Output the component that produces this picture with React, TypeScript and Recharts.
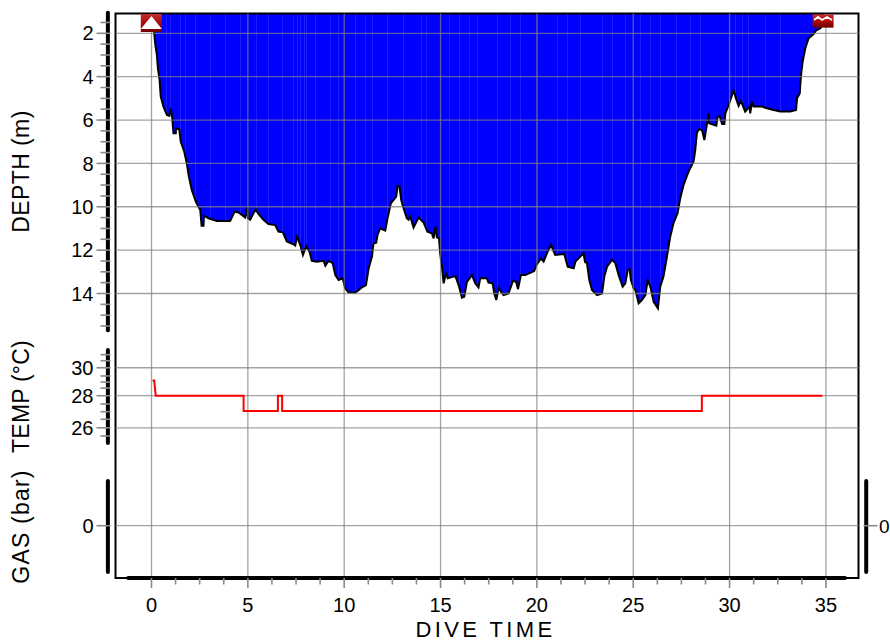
import React from "react";
import {
  ComposedChart,
  Area,
  Line,
  XAxis,
  YAxis,
  ReferenceLine,
  ReferenceArea,
  ReferenceDot,
} from "recharts";

const FONT = "Liberation Sans, Arial, sans-serif";
const GRID = "rgba(128,128,128,0.72)";
const TICK = "#8a8a8a";
const PLOT_LEFT = 115.5;
const PLOT_RIGHT = 858.5;

// depth profile (minutes, metres)
const profileTimes = [
  0.05, 0.1, 0.14, 0.19, 0.28, 0.33, 0.42, 0.48, 0.62, 0.8, 0.93, 1.0, 1.07, 1.14, 1.26, 1.27, 1.44, 1.52, 1.7, 1.83,
  1.94, 2.09, 2.32, 2.53, 2.6, 2.7, 2.72, 2.96, 3.39, 4.08, 4.31, 4.52, 4.86, 4.97, 5.0, 5.12, 5.29, 5.41, 5.55, 5.81,
  6.07, 6.42, 6.59, 6.82, 7.02, 7.37, 7.46, 7.55, 7.72, 7.86, 8.03, 8.2, 8.32, 8.58, 8.93, 9.02, 9.19, 9.4, 9.54, 9.71,
  9.92, 10.05, 10.23, 10.57, 10.92, 11.13, 11.27, 11.44, 11.52, 11.66, 11.73, 11.87, 12.13, 12.25, 12.42, 12.7, 12.77,
  12.87, 12.96, 13.08, 13.25, 13.34, 13.43, 13.6, 13.86, 14.12, 14.32, 14.55, 14.64, 14.74, 14.81, 14.92, 14.98, 15.07,
  15.16, 15.28, 15.37, 15.77, 15.94, 16.11, 16.23, 16.37, 16.63, 16.8, 16.97, 17.06, 17.4, 17.49, 17.7, 17.79, 17.89,
  18.01, 18.27, 18.53, 18.76, 18.92, 19.02, 19.17, 19.4, 19.86, 19.97, 20.21, 20.35, 20.52, 20.73, 20.95, 21.42, 21.6,
  21.91, 22.0, 22.42, 22.5, 22.6, 22.72, 22.86, 23.12, 23.38, 23.5, 23.64, 23.9, 24.07, 24.24, 24.45, 24.59, 24.71,
  24.81, 24.88, 25.02, 25.11, 25.28, 25.45, 25.63, 25.75, 25.89, 26.06, 26.28, 26.4, 26.57, 26.75, 26.92, 27.09, 27.3,
  27.44, 27.61, 27.87, 28.13, 28.22, 28.3, 28.39, 28.57, 28.69, 28.83, 28.91, 28.94, 29.31, 29.38, 29.49, 29.61, 29.73,
  29.78, 29.92, 30.04, 30.21, 30.33, 30.47, 30.59, 30.81, 31.04, 31.07, 31.16, 31.24, 31.68, 31.94, 32.29, 32.63,
  33.15, 33.45, 33.5, 33.64, 33.7, 33.79, 33.93, 34.1, 34.36, 34.48, 34.71, 34.8, 34.85,
];
const profileDepths = [
  1.1, 1.6, 2.0, 2.46, 3.0, 3.61, 4.15, 4.92, 5.38, 5.77, 5.81, 5.46, 5.84, 6.61, 6.61, 6.38, 6.43, 7.0, 7.46, 8.0,
  8.61, 9.23, 9.81, 10.15, 10.87, 10.87, 10.41, 10.53, 10.66, 10.66, 10.23, 10.26, 10.49, 10.03, 10.53, 10.6, 10.3,
  10.12, 10.33, 10.6, 10.8, 10.84, 11.15, 11.18, 11.6, 11.73, 11.79, 11.38, 11.76, 12.22, 11.81, 12.07, 12.49, 12.53,
  12.49, 12.72, 12.49, 12.6, 13.15, 13.38, 13.3, 13.76, 13.95, 13.96, 13.72, 13.61, 12.84, 12.3, 11.69, 11.66, 11.3,
  10.99, 11.1, 10.53, 9.84, 9.53, 9.04, 9.07, 9.69, 10.07, 10.53, 10.6, 10.46, 10.96, 10.5, 10.73, 11.15, 11.23, 11.46,
  10.92, 11.41, 11.46, 12.15, 12.76, 13.53, 13.07, 13.3, 13.2, 13.61, 14.19, 14.15, 13.46, 13.15, 13.53, 13.72, 13.3,
  13.3, 13.5, 13.53, 14.0, 14.3, 13.76, 14.07, 14.0, 13.41, 13.46, 13.8, 13.15, 13.15, 12.96, 12.69, 12.38, 12.53,
  12.15, 11.76, 12.22, 12.18, 12.76, 12.84, 12.53, 12.15, 12.55, 12.6, 13.38, 13.84, 14.07, 14.0, 13.22, 12.76, 12.45,
  12.6, 13.15, 13.69, 13.53, 12.92, 12.88, 13.38, 13.76, 13.84, 14.45, 14.3, 14.07, 13.38, 13.69, 14.38, 14.68, 13.69,
  13.22, 12.3, 11.38, 10.76, 10.3, 9.61, 9.0, 8.38, 7.92, 7.38, 6.61, 6.43, 6.46, 6.92, 6.15, 5.69, 6.15, 6.26, 5.84,
  5.84, 6.18, 6.18, 5.69, 5.38, 5.07, 4.64, 5.0, 5.35, 5.12, 5.61, 5.38, 5.69, 5.15, 5.38, 5.38, 5.46, 5.54, 5.61, 5.61,
  5.54, 5.0, 4.77, 4.0, 3.31, 2.69, 2.23, 2.03, 1.88, 1.77, 1.62, 1.1,
];

// temperature trace (minutes, degrees)
const tempTimes = [0.05, 0.14, 0.22, 4.78, 4.78, 6.56, 6.56, 6.78, 6.78, 28.56, 28.56, 34.82];
const tempValues = [29, 29, 28, 28, 27, 27, 28, 28, 27, 27, 28, 28];

const depthMajor = [2, 4, 6, 8, 10, 12, 14];
const depthMinor = [1.5, 2.5, 3, 3.5, 4.5, 5, 5.5, 6.5, 7, 7.5, 8.5, 9, 9.5, 10.5, 11, 11.5, 12.5, 13, 13.5, 14.5, 15, 15.5];
const tempMajor = [25.89, 28, 29.84];
const tempMinor = [25.35, 26.45, 26.95, 27.45, 28.5, 28.9, 29.3, 30.3, 30.7];
const gasMajor = [0];
const timeMajor = [0, 5, 10, 15, 20, 25, 30, 35];
const timeMinor = [1.25, 2.5, 3.75, 6.25, 7.5, 8.75, 11.25, 12.5, 13.75, 16.25, 17.5, 18.75, 21.25, 22.5, 23.75, 26.25, 27.5, 28.75, 31.25, 32.5, 33.75];

const timeDomain: [number, number] = [-1.868, 36.69];
const depthDomain: [number, number] = [1.087, 27.12];
const tempDomain: [number, number] = [16.01, 53.14];
const gasDomain: [number, number] = [-1.162, 11.38];

const profile = profileTimes.map((t, i) => ({ t, depth: profileDepths[i] }));
const temperature = tempTimes.map((t, i) => ({ t, temp: tempValues[i] }));

// faint seams in the blue fill
const seams = [
  166, 170, 180, 185, 195, 210, 225, 240, 256, 268, 282, 293, 297, 300, 304, 306, 315, 330, 338, 355, 365, 372, 387, 403, 421, 426, 449, 459,
  469, 477, 497, 510, 520, 537, 557, 567, 580, 602, 612, 625, 640, 650, 660, 676, 690, 700, 735, 742, 748, 765, 780,
];

const leftTick = (majors: number[]) => (props: any) => {
  const { y, payload } = props;
  const major = majors.includes(payload.value);
  const x = PLOT_LEFT;
  return (
    <g>
      <line x1={x - (major ? 19 : 15)} x2={x - 5} y1={y} y2={y} stroke={TICK} strokeWidth={1.6} />
      {major && (
        <text x={x - 22} y={y} dy="0.36em" textAnchor="end" fontSize={20} fontFamily={FONT} fill="#000">
          {Math.round(payload.value)}
        </text>
      )}
    </g>
  );
};

const rightTick = (props: any) => {
  const { y, payload } = props;
  const x = PLOT_RIGHT;
  return (
    <g>
      <line x1={x + 5} x2={x + 19} y1={y} y2={y} stroke={TICK} strokeWidth={1.6} />
      <text x={x + 20.5} y={y} dy="0.36em" fontSize={19} fontFamily={FONT} fill="#000">
        {payload.value}
      </text>
    </g>
  );
};

const timeTick = (props: any) => {
  const { x, y, payload } = props;
  const major = timeMajor.includes(payload.value);
  return (
    <g>
      <line x1={x} x2={x} y1={y} y2={y + (major ? 10 : 6.5)} stroke={TICK} strokeWidth={1.6} />
      {major && (
        <text x={x} y={y + 34} textAnchor="middle" fontSize={20} fontFamily={FONT} fill="#000">
          {payload.value}
        </text>
      )}
    </g>
  );
};

const StartIcon = (props: any) => {
  const { cx, cy } = props;
  return (
    <g>
      <rect x={cx - 10.7} y={cy - 9} width={21} height={18} fill="url(#iconRed)" />
      <path d={`M${cx} ${cy - 7} L${cx + 10.3} ${cy + 6} L${cx - 10.7} ${cy + 6} Z`} fill="#fff" />
    </g>
  );
};

const EndIcon = (props: any) => {
  const { cx, cy } = props;
  return (
    <g>
      <rect x={cx - 10.5} y={cy - 6.7} width={21} height={13.4} fill="url(#iconRed)" />
      <path
        d={`M${cx - 9} ${cy - 1} L${cx - 5} ${cy - 4} L${cx - 1} ${cy - 1} L${cx + 4} ${cy - 4} L${cx + 9} ${cy - 1}`}
        fill="none"
        stroke="#fff"
        strokeWidth={1.8}
      />
    </g>
  );
};

const axisBar = { stroke: "#000", strokeWidth: 4, strokeLinecap: "round" as const, ifOverflow: "visible" as const };
const yAxisBase = { width: 1, allowDataOverflow: true, interval: 0 as const, axisLine: false, tickLine: false, tickSize: 0, tickMargin: 0 };

const title = (label: string, cy: number, spacing: number) => (
  <text
    key={label}
    x={29.3}
    y={cy}
    transform={`rotate(-90 29.3 ${cy})`}
    textAnchor="middle"
    fontSize={23}
    letterSpacing={spacing}
    fontFamily={FONT}
    fill="#000"
  >
    {label}
  </text>
);

export default function App() {
  return (
    <div style={{ position: "absolute", left: 0, top: 0, width: 890, height: 642, overflow: "hidden", background: "#fff" }}>
      <ComposedChart width={890} height={642} margin={{ top: 13.5, left: 112.5, right: 30.5, bottom: 63 }}>
        <defs>
          <linearGradient id="iconRed" x1="0" y1="0" x2="0" y2="1">
            <stop offset="0%" stopColor="#c03030" />
            <stop offset="55%" stopColor="#a80808" />
            <stop offset="100%" stopColor="#6e0000" />
          </linearGradient>
          <pattern id="blueFill" patternUnits="userSpaceOnUse" width={890} height={642}>
            <rect width={890} height={642} fill="#0000ff" />
            {seams.map((x) => (
              <rect key={x} x={x} width={1} height={642} fill="#1c1cff" />
            ))}
          </pattern>
        </defs>
        <XAxis
          type="number"
          dataKey="t"
          domain={timeDomain}
          allowDataOverflow
          ticks={[...timeMajor, ...timeMinor]}
          interval={0}
          height={1}
          axisLine={false}
          tickLine={false}
          tickSize={0}
          tickMargin={0}
          tick={timeTick}
        />
        <YAxis yAxisId="depth" reversed domain={depthDomain} ticks={[...depthMajor, ...depthMinor]} tick={leftTick(depthMajor)} {...yAxisBase} />
        <YAxis yAxisId="temp" domain={tempDomain} ticks={[...tempMajor, ...tempMinor]} tick={leftTick(tempMajor)} {...yAxisBase} />
        <YAxis yAxisId="gas" domain={gasDomain} ticks={gasMajor} tick={leftTick(gasMajor)} {...yAxisBase} />
        <YAxis yAxisId="gasRight" orientation="right" domain={gasDomain} ticks={gasMajor} tick={rightTick} {...yAxisBase} />

        <Area
          yAxisId="depth"
          data={profile}
          dataKey="depth"
          type="linear"
          fill="url(#blueFill)"
          fillOpacity={1}
          stroke="#000"
          strokeWidth={2}
          dot={false}
          activeDot={false}
          isAnimationActive={false}
        />
        <ReferenceDot yAxisId="depth" x={0} y={1.525} shape={StartIcon} ifOverflow="visible" />
        <ReferenceDot yAxisId="depth" x={34.85} y={1.43} shape={EndIcon} ifOverflow="visible" />

        {timeMajor.map((t) => (
          <ReferenceLine key={t} yAxisId="depth" x={t} stroke={GRID} strokeWidth={1.3} />
        ))}
        {depthMajor.map((d) => (
          <ReferenceLine key={d} yAxisId="depth" y={d} stroke={GRID} strokeWidth={1.3} />
        ))}
        {tempMajor.map((d) => (
          <ReferenceLine key={d} yAxisId="temp" y={d} stroke={GRID} strokeWidth={1.3} />
        ))}
        <ReferenceLine yAxisId="gas" y={0} stroke={GRID} strokeWidth={1.3} />

        <Line
          yAxisId="temp"
          data={temperature}
          dataKey="temp"
          type="linear"
          stroke="#ff0000"
          strokeWidth={2}
          dot={false}
          activeDot={false}
          isAnimationActive={false}
        />

        <ReferenceArea yAxisId="depth" x1={timeDomain[0]} x2={timeDomain[1]} y1={depthDomain[0]} y2={depthDomain[1]} fill="none" stroke="#000" strokeWidth={2} ifOverflow="visible" />

        <ReferenceLine yAxisId="depth" segment={[{ x: -2.263, y: 1.05 }, { x: -2.263, y: 15.7 }]} {...axisBar} />
        <ReferenceLine yAxisId="temp" segment={[{ x: -2.263, y: 24.89 }, { x: -2.263, y: 31 }]} {...axisBar} />
        <ReferenceLine yAxisId="gas" segment={[{ x: -2.263, y: -1.029 }, { x: -2.263, y: 0.993 }]} {...axisBar} />
        <ReferenceLine yAxisId="gasRight" segment={[{ x: 37.09, y: -1.029 }, { x: 37.09, y: 0.993 }]} {...axisBar} />
        <ReferenceLine yAxisId="depth" segment={[{ x: -1.21, y: 27.12 }, { x: 35.99, y: 27.12 }]} {...axisBar} />

        {title("DEPTH (m)", 171.5, 0.4)}
        {title("TEMP (°C)", 396.5, 0.2)}
        {title("GAS (bar)", 526.5, 1.2)}
        <text x={485.5} y={637} textAnchor="middle" fontSize={22} letterSpacing={3.4} fontFamily={FONT} fill="#000">
          DIVE TIME
        </text>
      </ComposedChart>
    </div>
  );
}
